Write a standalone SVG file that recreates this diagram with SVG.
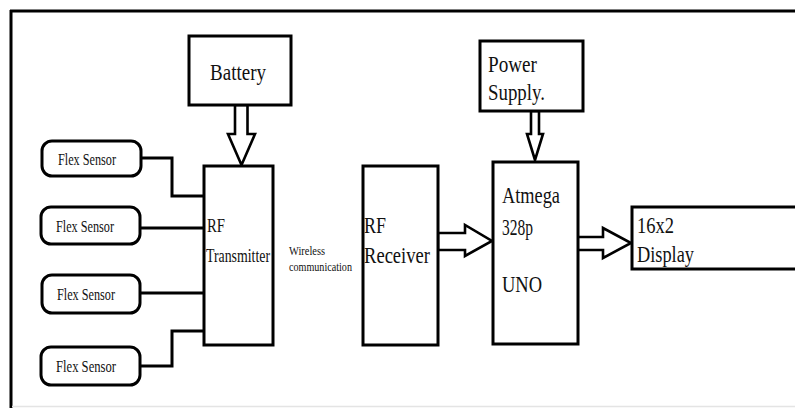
<svg xmlns="http://www.w3.org/2000/svg" width="795" height="408" viewBox="0 0 795 408">
<style>
.box{fill:#fff;stroke:#000;stroke-width:3}
.rbox{fill:#fff;stroke:#000;stroke-width:3}
.wire{fill:none;stroke:#000;stroke-width:3;stroke-linejoin:miter}
.harrow{fill:#fff;stroke:#000;stroke-width:2.6;stroke-linejoin:miter}
text{font-family:"Liberation Serif","Times New Roman",serif;fill:#111}
.fs{font-size:17px}
.big{font-size:23px}
.mid{font-size:19px}
.sm{font-size:12px}
</style>
<rect width="795" height="408" fill="#fff"/>
<g id="frame">
<line x1="10" y1="11" x2="795" y2="11" stroke="#000" stroke-width="3"/>
<line x1="11" y1="10" x2="11" y2="408" stroke="#000" stroke-width="3"/>
<line x1="12" y1="406.5" x2="795" y2="406.5" stroke="#e4e4e4" stroke-width="1.5"/>
</g>
<g id="connectors">
<polyline class="wire" points="141,158 172,158 172,196 205,196"/>
<line class="wire" x1="140" y1="228" x2="205" y2="228"/>
<line class="wire" x1="140" y1="293" x2="205" y2="293"/>
<polyline class="wire" points="140,366 172,366 172,331 205,331"/>
<polygon class="harrow" points="235,105 235,134 228,134 241.5,165 255,134 247.5,134 247.5,105"/>
<polygon class="harrow" points="531,111 531,134 527,134 535,160 543,134 539,134 539,111"/>
<polygon class="harrow" points="438,233 465,233 465,225 492,241 465,256 465,250 438,250"/>
<polygon class="harrow" points="577,237 603,237 603,228 631,243 603,258 603,250 577,250"/>
</g>
<g id="battery">
<rect class="box" x="189" y="36" width="102" height="69"/>
<text class="big" x="210" y="80" textLength="56" lengthAdjust="spacingAndGlyphs">Battery</text>
</g>
<g id="flex1">
<rect class="rbox" x="42" y="141" width="99" height="35" rx="10"/>
<text class="fs" x="58" y="165" textLength="58" lengthAdjust="spacingAndGlyphs">Flex Sensor</text>
</g>
<g id="flex2">
<rect class="rbox" x="41" y="207" width="99" height="37" rx="10"/>
<text class="fs" x="56" y="232" textLength="58" lengthAdjust="spacingAndGlyphs">Flex Sensor</text>
</g>
<g id="flex3">
<rect class="rbox" x="42" y="275" width="98" height="38" rx="10"/>
<text class="fs" x="57" y="300" textLength="58" lengthAdjust="spacingAndGlyphs">Flex Sensor</text>
</g>
<g id="flex4">
<rect class="rbox" x="41" y="347" width="99" height="38" rx="10"/>
<text class="fs" x="56" y="372" textLength="60" lengthAdjust="spacingAndGlyphs">Flex Sensor</text>
</g>
<g id="transmitter">
<rect class="box" x="204" y="166" width="69" height="179"/>
<text class="mid" x="207" y="232" textLength="18" lengthAdjust="spacingAndGlyphs">RF</text>
<text class="mid" x="206" y="262" textLength="64" lengthAdjust="spacingAndGlyphs">Transmitter</text>
</g>
<g id="wireless">
<text class="sm" x="289" y="255"><tspan textLength="36" lengthAdjust="spacingAndGlyphs">Wireless</tspan><tspan x="289" dy="16" textLength="63" lengthAdjust="spacingAndGlyphs">communication</tspan></text>
</g>
<g id="receiver">
<rect class="box" x="363" y="166" width="75" height="179"/>
<text class="big" x="364" y="233" textLength="22" lengthAdjust="spacingAndGlyphs">RF</text>
<text class="big" x="364" y="263" textLength="66" lengthAdjust="spacingAndGlyphs">Receiver</text>
</g>
<g id="power">
<rect class="box" x="480" y="41" width="103" height="70"/>
<text class="big" x="488" y="72" textLength="49" lengthAdjust="spacingAndGlyphs">Power</text>
<text class="big" x="488" y="100" textLength="57" lengthAdjust="spacingAndGlyphs">Supply.</text>
</g>
<g id="atmega">
<rect class="box" x="493" y="162" width="85" height="182"/>
<text class="big" x="502" y="203" textLength="58" lengthAdjust="spacingAndGlyphs">Atmega</text>
<text class="big" x="502" y="235" textLength="31" lengthAdjust="spacingAndGlyphs">328p</text>
<text class="big" x="502" y="292" textLength="40" lengthAdjust="spacingAndGlyphs">UNO</text>
</g>
<g id="display">
<rect class="box" x="632" y="207" width="180" height="62"/>
<text class="big" x="637" y="233" textLength="37" lengthAdjust="spacingAndGlyphs">16x2</text>
<text class="big" x="637" y="262" textLength="57" lengthAdjust="spacingAndGlyphs">Display</text>
</g>
</svg>
